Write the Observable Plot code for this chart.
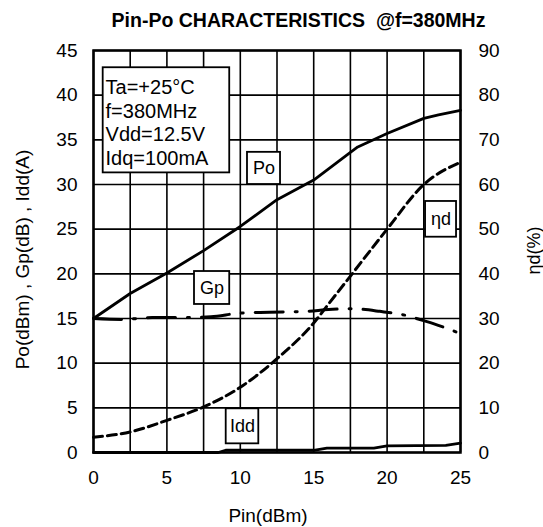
<!DOCTYPE html>
<html>
<head>
<meta charset="utf-8">
<script src="https://cdn.jsdelivr.net/npm/d3@7"></script>
<script src="https://cdn.jsdelivr.net/npm/@observablehq/plot@0.6"></script>
<style>
  html, body { margin: 0; padding: 0; background: #fff; }
</style>
</head>
<body>
<div id="chart"></div>
<script>
// ---- data ----
const titleText = "Pin-Po CHARACTERISTICS  @f=380MHz";
const xLabel = "Pin(dBm)";
const yLabelLeft = "Po(dBm) , Gp(dB) , Idd(A)";
const yLabelRight = "ηd(%)";

const xTicks = [0, 5, 10, 15, 20, 25];
const xGrid = [0, 2.5, 5, 7.5, 10, 12.5, 15, 17.5, 20, 22.5, 25];
const yTicks = [0, 5, 10, 15, 20, 25, 30, 35, 40, 45]; // right axis shows double (0..90)

// Po (dBm)
const poX = [0, 2.5, 5, 7.5, 10, 12.5, 15, 17.5, 18, 20, 22.5, 23.5, 25];
const poY = [15, 17.8, 20.1, 22.6, 25.3, 28.3, 30.5, 33.6, 34.2, 35.7, 37.4, 37.8, 38.3];

// Gp (dB)
const gpX = [0, 2, 4, 6, 8, 10, 12, 14.5, 16, 17.5, 19.5, 21.4, 22.3, 23.2, 25];
const gpY = [15, 14.9, 15.1, 15.1, 15.2, 15.6, 15.7, 15.8, 16.0, 16.1, 15.8, 15.3, 14.85, 14.4, 13.3];

// ηd (%) on right axis
const etaX = [0, 2.5, 5, 7.5, 10, 12.5, 15, 16, 17.5, 20, 22.5, 25];
const etaY = [3.4, 4.6, 7.2, 10.2, 14.6, 21, 29, 33.2, 39.5, 50, 60, 65];

// Idd (A)
const iddX = [0, 8.5, 9, 15, 15.9, 19.1, 20, 24, 25];
const iddY = [0, 0, 0.25, 0.25, 0.5, 0.5, 0.75, 0.8, 1.05];

// series label boxes (data units)
const tagNames = ["Po", "Gp", "Idd", "ηd"];
const tagX1 = [10.49, 6.88, 9.04, 22.62];
const tagX2 = [12.74, 9.28, 11.26, 24.73];
const tagY1 = [30.0, 16.57, 0.97, 24.1];
const tagY2 = [33.6, 20.26, 4.89, 28.1];

// condition box
const infoLines = ["Ta=+25°C", "f=380MHz", "Vdd=12.5V", "Idq=100mA"];
const infoBox = {x1: 0.66, x2: 9.28, y1: 31.3, y2: 43.07};
const infoAnchor = {x: 0.82, y: 41.95};

// ---- build tables ----
const po = poX.map((x, i) => ({x, y: poY[i]}));
const gp = gpX.map((x, i) => ({x, y: gpY[i]}));
const eta = etaX.map((x, i) => ({x, y: etaY[i]}));
const idd = iddX.map((x, i) => ({x, y: iddY[i]}));
const tags = tagNames.map((name, i) => ({name, x1: tagX1[i], x2: tagX2[i], y1: tagY1[i], y2: tagY2[i]}));

const font = "'Liberation Sans', Arial, Helvetica, sans-serif";

const chart = Plot.plot({
  width: 543,
  height: 527,
  marginLeft: 93,
  marginRight: 83,
  marginTop: 50,
  marginBottom: 75,
  style: {fontFamily: font, background: "#fff", color: "#000"},
  x: {domain: [0, 25]},
  y: {domain: [0, 45]},
  marks: [
    Plot.gridX(xGrid, {stroke: "#000", strokeOpacity: 1, strokeWidth: 1.6}),
    Plot.gridY(yTicks, {stroke: "#000", strokeOpacity: 1, strokeWidth: 1.6}),
    Plot.frame({stroke: "#000", strokeWidth: 2.5}),
    Plot.axisX({ticks: xTicks, tickSize: 0, tickPadding: 18, fontSize: 19, label: null}),
    Plot.axisY({ticks: yTicks, anchor: "left", tickSize: 0, tickPadding: 16, fontSize: 19, label: null}),
    Plot.axisY({ticks: yTicks, anchor: "right", tickSize: 0, tickPadding: 18, fontSize: 19, label: null, tickFormat: d => String(d * 2)}),
    // curves
    Plot.line(idd, {x: "x", y: "y", stroke: "#000", strokeWidth: 2.8}),
    Plot.line(eta, {x: "x", y: d => d.y / 2, stroke: "#000", strokeWidth: 3, strokeDasharray: "9,5", curve: "monotone-x"}),
    Plot.line(gp, {x: "x", y: "y", stroke: "#000", strokeWidth: 3, strokeDasharray: "28,12,2,12", curve: "monotone-x"}),
    Plot.line(po, {x: "x", y: "y", stroke: "#000", strokeWidth: 2.8}),
    // info box
    Plot.rect([infoBox], {x1: "x1", x2: "x2", y1: "y1", y2: "y2", fill: "#fff", stroke: "#000", strokeWidth: 1.8}),
    Plot.text([infoLines.join("\n")], {x: () => infoAnchor.x, y: () => infoAnchor.y, textAnchor: "start", lineAnchor: "top", lineHeight: 1.17, fontSize: 20, fill: "#000"}),
    // series tags
    Plot.rect(tags, {x1: "x1", x2: "x2", y1: "y1", y2: "y2", fill: "#fff", stroke: "#000", strokeWidth: 1.8}),
    Plot.text(tags, {x: d => (d.x1 + d.x2) / 2, y: d => (d.y1 + d.y2) / 2, text: "name", textAnchor: "middle", lineAnchor: "middle", fontSize: 18, fill: "#000"}),
    // titles
    Plot.text([titleText], {frameAnchor: "top", dx: 21.5, dy: -23.5, lineAnchor: "bottom", textAnchor: "middle", fontSize: 19.5, fontWeight: "bold", fill: "#000"}),
    Plot.text([xLabel], {frameAnchor: "bottom", dx: -9, dy: 69, lineAnchor: "bottom", textAnchor: "middle", fontSize: 19, fill: "#000"}),
    Plot.text([yLabelLeft], {frameAnchor: "left", dx: -71, dy: 8, rotate: -90, lineAnchor: "middle", textAnchor: "middle", fontSize: 19, fill: "#000"}),
    Plot.text([yLabelRight], {frameAnchor: "right", dx: 74, dy: -1, rotate: -90, lineAnchor: "middle", textAnchor: "middle", fontSize: 18, fill: "#000"})
  ]
});

document.getElementById("chart").appendChild(chart);
</script>
</body>
</html>
